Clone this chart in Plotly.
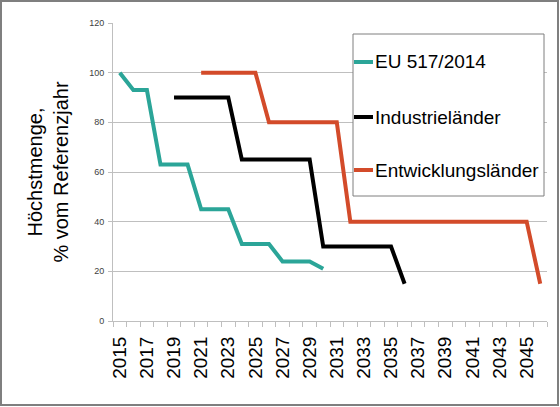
import numpy as np
import plotly.graph_objs as go

# phase-down steps, % of reference year
eu_years = [2015, 2016, 2017, 2018, 2019, 2020, 2021, 2022, 2023, 2024, 2025, 2026, 2027, 2028, 2029, 2030]
eu_values = [100, 93, 93, 63, 63, 63, 45, 45, 45, 31, 31, 31, 24, 24, 24, 21]

ind_years = list(range(2019, 2037))
ind_values = [90, 90, 90, 90, 90, 65, 65, 65, 65, 65, 65, 30, 30, 30, 30, 30, 30, 15]

dev_years = list(range(2021, 2047))
dev_values = [100, 100, 100, 100, 100, 80, 80, 80, 80, 80, 80,
              40, 40, 40, 40, 40, 40, 40, 40, 40, 40, 40, 40, 40, 40, 15]

tick_years = list(range(2015, 2046, 2))

series = [
    ('EU 517/2014', eu_years, eu_values, '#2BA598'),
    ('Industrieländer', ind_years, ind_values, '#000000'),
    ('Entwicklungsländer', dev_years, dev_values, '#D34B2A'),
]

# plot area in pixels
W, H = 560, 407
L, R, T, B = 113, 13, 23, 86
PW, PH = W - L - R, H - T - B


def px(x):
    return (x - L) / PW


def py(y):
    return (H - B - y) / PH


traces = []
for name, xs, ys, color in series:
    traces.append(go.Scatter(x=xs, y=ys, name=name, mode='lines',
                             line=dict(color=color, width=4), showlegend=False))

# hand-made legend box (short line samples like the original)
shapes = [
    dict(type='rect', xref='paper', yref='paper', x0=px(1), x1=px(W - 2),
         y0=py(H - 2), y1=py(1), line=dict(color='#7F7F7F', width=2)),
    dict(type='rect', xref='paper', yref='paper', x0=px(353), x1=px(544),
         y0=py(196), y1=py(34), line=dict(color='#7F7F7F', width=1),
         fillcolor='white', layer='above'),
]
annotations = []
legend_rows = [62, 117, 170]
for (name, _, _, color), row in zip(series, legend_rows):
    shapes.append(dict(type='line', xref='paper', yref='paper', x0=px(354), x1=px(373),
                       y0=py(row), y1=py(row), line=dict(color=color, width=4),
                       layer='above'))
    annotations.append(dict(text=name, xref='paper', yref='paper', x=px(373), y=py(row),
                            xanchor='left', yanchor='middle', showarrow=False,
                            font=dict(size=19, color='black')))

font = 'Liberation Sans, Arial, sans-serif'
layout = go.Layout(
    width=W, height=H, autosize=False,
    margin=dict(l=L, r=R, t=T, b=B),
    paper_bgcolor='white', plot_bgcolor='white',
    font=dict(family=font, color='black'),
    showlegend=False,
    xaxis=dict(range=[2014.5, 2046.5], tickmode='array', tickvals=tick_years,
               ticktext=[str(y) for y in tick_years], tickangle=-90,
               ticks='', tickfont=dict(size=19), showgrid=False, automargin=False,
               ticklabelstandoff=7,
               showline=True, linecolor='#BFBFBF', linewidth=1, zeroline=False,
               minor=dict(tickmode='array', tickvals=list(np.arange(2014.5, 2047, 1.0)),
                          ticks='outside', ticklen=5, tickcolor='#BFBFBF', showgrid=False)),
    yaxis=dict(range=[0, 120], dtick=20, tick0=0, showgrid=True, gridcolor='#BFBFBF',
               gridwidth=1, showline=True, linecolor='#BFBFBF', zeroline=False,
               ticks='outside', ticklen=4, tickcolor='#BFBFBF', automargin=False,
               ticklabelstandoff=2,
               tickfont=dict(size=9, color='#404040'),
               title=dict(text='Höchstmenge,<br>% vom Referenzjahr',
                          font=dict(size=20), standoff=15)),
    shapes=shapes,
    annotations=annotations,
)

fig = go.Figure(data=traces, layout=layout)
# drop the browser's default 8px body margin so the figure sits at the window corner
fig.write_html('out.html', config={'displayModeBar': False},
               post_script="document.body.style.margin = '0';")
